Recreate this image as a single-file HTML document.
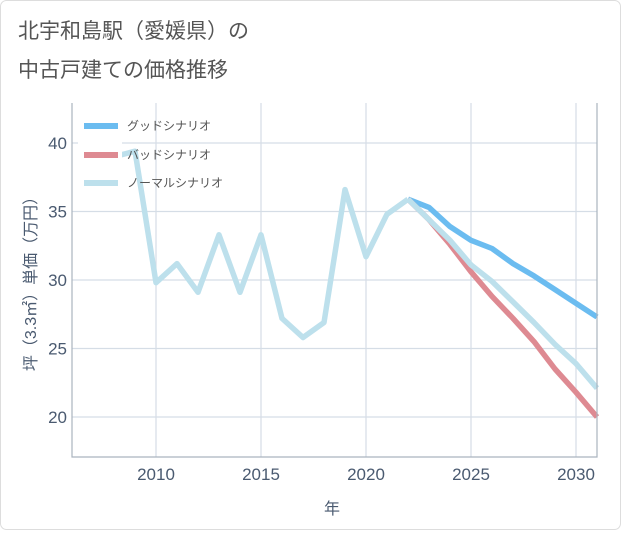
<!DOCTYPE html>
<html><head><meta charset="utf-8"><style>
body{margin:0;background:#fff;}
svg text{font-family:"Liberation Sans","Noto Sans CJK JP",sans-serif;}
</style></head><body>
<svg width="621" height="530" xmlns="http://www.w3.org/2000/svg">
<rect x="0.5" y="0.5" width="620" height="529" rx="6" fill="#fff" stroke="#ddd"/>
<text x="18" y="38" font-size="21" fill="#555">北宇和島駅（愛媛県）の</text>
<text x="18" y="77" font-size="21" fill="#555">中古戸建ての価格推移</text>
<g id="grid"></g>
<g id="series"></g>
<g id="axes"></g>
<rect x="78" y="112" width="44" height="86" fill="#fff"/>
<g>
<line x1="84" y1="126" x2="118" y2="126" stroke="#6bbcf0" stroke-width="6"/>
<text x="127" y="130" font-size="12" fill="#555">グッドシナリオ</text>
<line x1="84" y1="155" x2="118" y2="155" stroke="#de8a92" stroke-width="6"/>
<text x="127" y="159" font-size="12" fill="#555">バッドシナリオ</text>
<line x1="84" y1="183" x2="118" y2="183" stroke="#bde0ec" stroke-width="6"/>
<text x="127" y="187" font-size="12" fill="#555">ノーマルシナリオ</text>
</g>
<text x="332" y="514" font-size="16" fill="#4a5a70" text-anchor="middle">年</text>
<text transform="translate(36,280) rotate(-90)" font-size="16" fill="#4a5a70" text-anchor="middle">坪（3.3㎡）単価（万円）</text>
</svg>
<script>
const histYears=[2008,2009,2010,2011,2012,2013,2014,2015,2016,2017,2018,2019,2020,2021,2022];
const histValues=[39.0,39.4,29.8,31.2,29.1,33.3,29.1,33.3,27.2,25.8,26.9,36.6,31.7,34.8,35.9];
const fcYears=[2022,2023,2024,2025,2026,2027,2028,2029,2030,2031];
const goodValues=[35.9,35.3,33.9,32.9,32.3,31.2,30.3,29.3,28.3,27.3];
const badValues=[35.9,34.4,32.6,30.6,28.8,27.2,25.5,23.5,21.8,20.0];
const normalValues=[35.9,34.4,32.9,31.1,29.9,28.4,26.9,25.3,23.9,22.1];
const xTicks=[2010,2015,2020,2025,2030];
const yTicks=[20,25,30,35,40];
const X0=72,X1=597,Y0=103,Y1=457,xmin=2006,xmax=2031,ymin=17.08,ymax=42.92;
const xs=v=>X0+(v-xmin)/(xmax-xmin)*(X1-X0);
const ys=v=>Y1-(v-ymin)/(ymax-ymin)*(Y1-Y0);
const NS="http://www.w3.org/2000/svg";
function mk(t,a,p){const e=document.createElementNS(NS,t);for(const k in a)e.setAttribute(k,a[k]);p.appendChild(e);return e;}
const grid=document.getElementById('grid'),ser=document.getElementById('series'),ax=document.getElementById('axes');
xTicks.forEach(t=>{const l=mk('line',{x1:xs(t),x2:xs(t),y1:Y0,y2:Y1,stroke:'#d5dde6','stroke-width':1.2},grid);


const tx=mk('text',{x:xs(t),y:Y1+23,'font-size':17,fill:'#4a5a70','text-anchor':'middle'},ax);tx.textContent=t;

});
yTicks.forEach(t=>{const l=mk('line',{x1:X0,x2:X1,y1:ys(t),y2:ys(t),stroke:'#d5dde6','stroke-width':1.2},grid);


const tx=mk('text',{x:X0-5,y:ys(t)+6,'font-size':17,fill:'#4a5a70','text-anchor':'end'},ax);tx.textContent=t;

});
const fr=mk('path',{d:`M${X0},${Y0}V${Y1}H${X1}V${Y0}`,fill:'none',stroke:'#aab4bf','stroke-width':1.2},ax);


function line(years,vals,color,name){const d=years.map((y,i)=>(i?'L':'M')+xs(y).toFixed(1)+','+ys(vals[i]).toFixed(1)).join('');
const p=mk('path',{d:d,fill:'none',stroke:color,'stroke-width':5.5,'stroke-linejoin':'round'},ser);

}
line(fcYears,goodValues,'#6bbcf0','good-scenario-line');
line(fcYears,badValues,'#de8a92','bad-scenario-line');
line(fcYears,normalValues,'#bde0ec','normal-scenario-line');
line(histYears,histValues,'#bde0ec','historical-line');
</script>
</body></html>
